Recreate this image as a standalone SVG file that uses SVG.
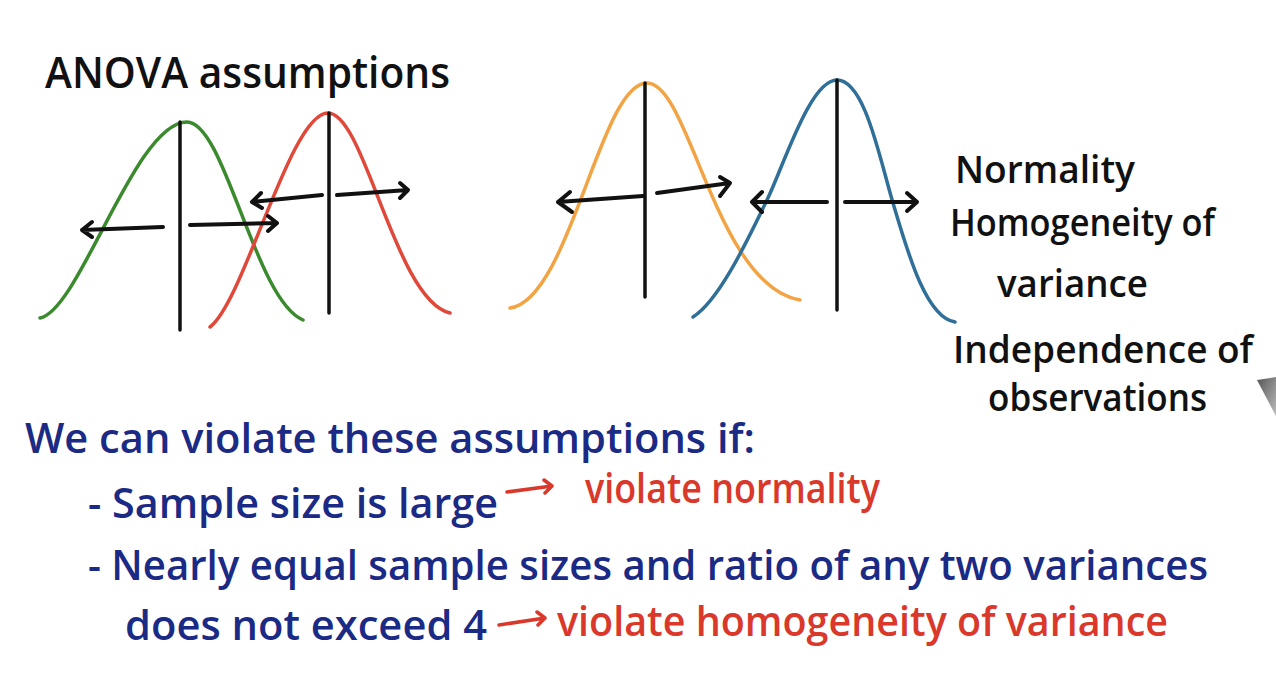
<svg xmlns="http://www.w3.org/2000/svg" width="1276" height="688" viewBox="0 0 1276 688">
<defs>
<style>
.curve{fill:none;stroke-width:3.5;stroke-linecap:round;stroke-linejoin:round}
.axis{fill:none;stroke:#111;stroke-width:3.5;stroke-linecap:round}
.arr{fill:none;stroke:#111;stroke-width:4;stroke-linecap:round;stroke-linejoin:round}
.rarr{fill:none;stroke:#d9382a;stroke-width:3.5;stroke-linecap:round;stroke-linejoin:round}
.t{font-family:"Open Sans","Liberation Sans",sans-serif;font-weight:600}
.blk{fill:#111}
.blue{fill:#1b2a84}
.red{fill:#d9382a}
</style>
<linearGradient id="cur" x1="0" y1="0" x2="1" y2="1">
<stop offset="0" stop-color="#555"/>
<stop offset="1" stop-color="#bbb"/>
</linearGradient>
</defs>
<rect width="1276" height="688" fill="#fff"/>

<g id="title"><text class="t blk" x="45" y="88" font-size="44" textLength="405" lengthAdjust="spacingAndGlyphs">ANOVA assumptions</text></g>

<g id="green-dist">
<path class="curve" stroke="#3b8a2e" d="M40,318 C80,310 135,122 187,122 C225,122 255,300 303,320"/>
<line class="axis" x1="180" y1="122" x2="180" y2="330"/>
</g>
<g id="red-dist">
<path class="curve" stroke="#e0483a" d="M210,327 C245,300 290,113 328,113 C365,113 395,300 450,313"/>
<line class="axis" x1="329" y1="113" x2="329" y2="313"/>
</g>
<g id="orange-dist">
<path class="curve" stroke="#f2a444" d="M510,308 C570,300 600,83 647,83 C690,83 715,285 800,300"/>
<line class="axis" x1="645" y1="83" x2="645" y2="297"/>
</g>
<g id="blue-dist">
<path class="curve" stroke="#2f6f98" d="M693,317 C720,300 750,235 767,200 C784,165 810,80 837,80 C865,80 880,160 893,203 C906,246 925,318 955,322"/>
<line class="axis" x1="837" y1="80" x2="837" y2="310"/>
</g>

<g id="connectors">
<path class="arr" d="M163,227 L82,230 M92,222 L82,230 L92,237"/>
<path class="arr" d="M190,225 L277,223 M268,216 L277,223 L268,231"/>
<path class="arr" d="M322,195 L252,202 M261,193 L252,202 L262,208"/>
<path class="arr" d="M337,195 L408,190 M400,183 L408,190 L400,198"/>
<path class="arr" d="M643,196 L558,202 M570,192 L558,202 L572,212"/>
<path class="arr" d="M657,193 L730,183 M720,177 L730,183 L720,196"/>
<path class="arr" d="M827,202 L752,202 M762,192 L752,202 L762,212"/>
<path class="arr" d="M845,202 L917,202 M907,193 L917,202 L907,211"/>
<path class="rarr" d="M507,492 L552,486 M544,480 L552,486 L545,493"/>
<path class="rarr" d="M499,625 L545,618 M537,612 L545,618 L538,625"/>
</g>

<g id="assumptions">
<text class="t blk" x="955" y="183" font-size="38" textLength="180" lengthAdjust="spacingAndGlyphs">Normality</text>
<text class="t blk" x="950" y="236" font-size="38" textLength="265" lengthAdjust="spacingAndGlyphs">Homogeneity of</text>
<text class="t blk" x="997" y="297" font-size="38" textLength="151" lengthAdjust="spacingAndGlyphs">variance</text>
<text class="t blk" x="953" y="363" font-size="38" textLength="300" lengthAdjust="spacingAndGlyphs">Independence of</text>
<text class="t blk" x="988" y="411" font-size="38" textLength="219" lengthAdjust="spacingAndGlyphs">observations</text>
</g>

<g id="notes">
<text class="t blue" x="25" y="453" font-size="42" textLength="730" lengthAdjust="spacingAndGlyphs">We can violate these assumptions if:</text>
<text class="t blue" x="88" y="518" font-size="42" textLength="410" lengthAdjust="spacingAndGlyphs">- Sample size is large</text>
<text class="t red" x="585" y="503" font-size="42" textLength="295" lengthAdjust="spacingAndGlyphs">violate normality</text>
<text class="t blue" x="88" y="580" font-size="42" textLength="1120" lengthAdjust="spacingAndGlyphs">- Nearly equal sample sizes and ratio of any two variances</text>
<text class="t blue" x="125" y="640" font-size="42" textLength="362" lengthAdjust="spacingAndGlyphs">does not exceed 4</text>
<text class="t red" x="557" y="636" font-size="42" textLength="611" lengthAdjust="spacingAndGlyphs">violate homogeneity of variance</text>
</g>

<polygon id="cursor" points="1257,380 1276,377 1276,416" fill="url(#cur)"/>
</svg>
